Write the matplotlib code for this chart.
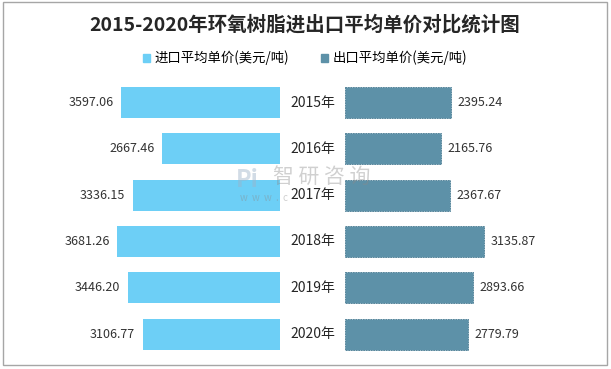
import matplotlib
matplotlib.use("Agg")
import matplotlib.pyplot as plt
import matplotlib.transforms as mtransforms
from matplotlib.patches import Patch, Rectangle

plt.rcParams['font.family'] = ['Noto Sans CJK SC', 'DejaVu Sans']

# ---- data ----
years = ["2015年", "2016年", "2017年", "2018年", "2019年", "2020年"]
import_price = [3597.06, 2667.46, 3336.15, 3681.26, 3446.20, 3106.77]
export_price = [2395.24, 2165.76, 2367.67, 3135.87, 2893.66, 2779.79]
import_label = "进口平均单价(美元/吨)"
export_label = "出口平均单价(美元/吨)"
title = "2015-2020年环氧树脂进出口平均单价对比统计图"

c_imp = "#6DCFF6"
c_exp = "#5D91A8"

W, H = 611, 369
fig = plt.figure(figsize=(W / 100, H / 100), dpi=100)

# axes placed in pixel terms: left bars end at x=280, right bars start at x=345
top_px, bot_px = 79.4, 357.2
y0, y1 = 1 - bot_px / H, 1 - top_px / H
px_per_unit = 0.0442
axL = fig.add_axes([20 / W, y0, 260 / W, y1 - y0])
axR = fig.add_axes([345 / W, y0, 260 / W, y1 - y0])

ypos = list(range(len(years)))
axL.barh(ypos, import_price, height=0.67, color=c_imp)
axR.barh(ypos, export_price, height=0.67, color=c_exp,
         edgecolor="#4A7C93", linewidth=0.6, linestyle=(0, (2, 1)))

for ax in (axL, axR):
    ax.set_xlim(0, 260 / px_per_unit)
    ax.set_ylim(len(years) - 0.5, -0.5)
    ax.axis("off")
axL.invert_xaxis()

for i, v in enumerate(import_price):
    axL.annotate(f"{v:.2f}", (v, i), xytext=(-5.5, 0), textcoords="offset points",
                 ha="right", va="center", fontsize=9, color="#333333")
for i, v in enumerate(export_price):
    axR.annotate(f"{v:.2f}", (v, i), xytext=(5, 0), textcoords="offset points",
                 ha="left", va="center", fontsize=9, color="#333333")

# year labels in the gap between the two bar groups
tr = mtransforms.blended_transform_factory(fig.transFigure, axL.transData)
for i, y in enumerate(years):
    fig.text(312.5 / W, i, y, transform=tr, ha="center", va="center",
             fontsize=10, color="#262626", zorder=5)

# watermark
fig.text(322 / W, 1 - 177 / H, "智 研 咨 询", ha="center", va="center",
         fontsize=15, color="#8A8A8A", alpha=0.4, zorder=1)
fig.text(247 / W, 1 - 180 / H, "Pi", ha="center", va="center",
         fontsize=17, fontweight="bold", color="#9DB3C8", alpha=0.45, zorder=1)
fig.text(240 / W, 1 - 198 / H, "w  w  w  .  c", ha="left", va="center",
         fontsize=7, color="#8A8A8A", alpha=0.4, zorder=1)

fig.text(305 / W, 1 - 25 / H, title, ha="center", va="center",
         fontsize=14, fontweight="bold", color="#262626")

handles = [Patch(color=c_imp), Patch(color=c_exp)]
fig.legend(handles, [import_label, export_label], loc="center",
           bbox_to_anchor=(305 / W, 1 - 58 / H), ncol=2, frameon=False,
           fontsize=9.6, handlelength=0.55, handleheight=0.55, handletextpad=0.3,
           columnspacing=2.4)

fig.patches.append(Rectangle((3 / W, 1 - 365 / H), 604 / W, 363 / H,
                             transform=fig.transFigure, fill=False,
                             edgecolor="#A6A6A6", linewidth=1))

fig.savefig("out.png", dpi=100)
